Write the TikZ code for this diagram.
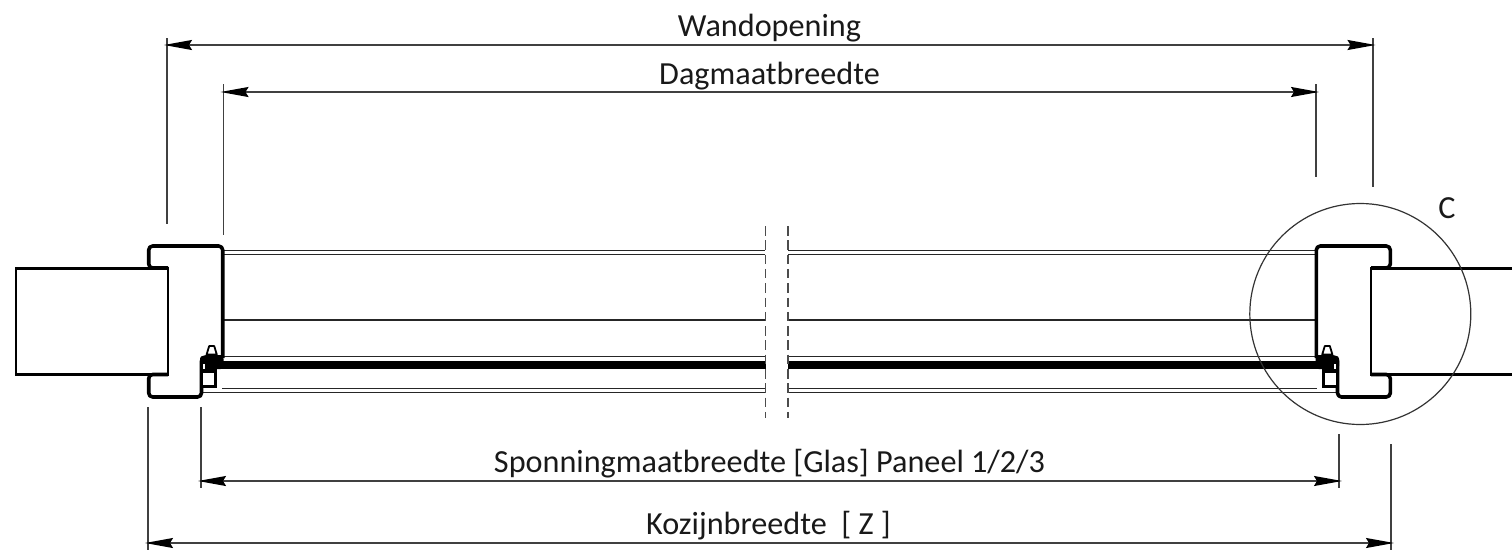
\documentclass[tikz,border=0pt]{standalone}
\usepackage{fontspec}
\setmainfont{Carlito}
\usetikzlibrary{arrows.meta}
\tikzset{
  framel/.style={line width=3.6pt,rounded corners=4pt,line join=round},
  walll/.style={line width=2.5pt,line join=miter},
  glassl/.style={line width=1.2pt,draw=black!85},
  dim/.style={line width=1.4pt,draw=black!75,{Stealth[length=28pt,width=10pt,inset=3pt,color=black]}-{Stealth[length=28pt,width=10pt,inset=3pt,color=black]}},
  extl/.style={line width=1.3pt,draw=black!75},
  brk/.style={line width=1.6pt,draw=black!70,dash pattern=on 9.5pt off 4.8pt},
  lbl/.style={font=\fontsize{32.2}{36}\selectfont,inner sep=0pt,text=black!90},
}
\newcommand{\myprofile}{%
  \draw[framel] (168,268) -- (148.7,268) -- (148.7,246) -- (222.7,246) -- (222.7,358);
  \draw[framel] (168,374.5) -- (148.7,374.5) -- (148.7,397) -- (201.5,397) -- (201.5,357) -- (222.7,357);
  \fill[rounded corners=3pt] (200,369) -- (200,355.8) -- (223.5,355.8) -- (223.5,369) -- cycle;
  \fill (201,369) rectangle (216.7,387.8);
  \fill[white] (203.4,373.2) rectangle (214,385.4);
  \fill[white] (202.6,364) rectangle (204.6,368.5);
  \draw[line width=1.8pt,line join=round,fill=white] (206.6,354.5) -- (209.2,346) -- (214.2,346) -- (216.8,354.5) -- cycle;
}
\begin{document}
\begin{tikzpicture}[x=1pt,y=-1pt]
\useasboundingbox (0,0) rectangle (1512,554);
\fill[white] (0,0) rectangle (1512,554);

% glazing lines, both halves
\foreach \yy in {250.6,254.2,320,356.8,388.6}{
  \draw[glassl] (222,\yy) -- (765,\yy);
  \draw[glassl] (788,\yy) -- (1317,\yy);
}
\draw[glassl] (202,392.4) -- (765,392.4);
\draw[glassl] (788,392.4) -- (1337,392.4);
\fill (205,360.5) rectangle (765.5,368.8);
\fill (788,360.5) rectangle (1330,368.8);

% left end
\myprofile
\draw[walll] (16,268.3) rectangle (168,374.5);
% right end
\begin{scope}[shift={(1539,0)},x=-1pt]
  \myprofile
  \draw[walll] (27,268.3) -- (168,268.3) -- (168,374.5) -- (27,374.5);
\end{scope}

% break lines
\coordinate (b1t) at (765.3,226); \coordinate (b1b) at (765.3,418);
\coordinate (b2t) at (788.2,226); \coordinate (b2b) at (788.2,418);
\draw[brk] (b1t) -- (b1b);
\draw[brk] (b2t) -- (b2b);

% detail circle
\node[draw=black!80,line width=1.2pt,circle,minimum size=221pt,inner sep=0pt] (detail) at (1360.3,314) {};
\node[lbl] (lc) at (1447,208) {C};

% extension lines
\coordinate (wlt) at (167,38);   \coordinate (wlb) at (167,224);
\coordinate (wrt) at (1373,38);  \coordinate (wrb) at (1373,187);
\coordinate (dlt) at (223.5,84); \coordinate (dlb) at (223.5,235);
\coordinate (drt) at (1316,84);  \coordinate (drb) at (1316,177);
\coordinate (slt) at (201,407);  \coordinate (slb) at (201,488);
\coordinate (srt) at (1339,434); \coordinate (srb) at (1339,488);
\coordinate (klt) at (148,407);  \coordinate (klb) at (148,550);
\coordinate (krt) at (1391,444); \coordinate (krb) at (1391,550);
\foreach \a/\b in {wlt/wlb,wrt/wrb,dlt/dlb,drt/drb,slt/slb,srt/srb,klt/klb,krt/krb}
  \draw[extl] (\a) -- (\b);

% dimension lines
\coordinate (w1) at (164,45);    \coordinate (w2) at (1375.5,45);
\coordinate (d1) at (220.5,92);  \coordinate (d2) at (1319,92);
\coordinate (s1) at (198,481);   \coordinate (s2) at (1342,481);
\coordinate (k1) at (145,543);   \coordinate (k2) at (1394,543);
\draw[dim] (w1) -- (w2);
\draw[dim] (d1) -- (d2);
\draw[dim] (s1) -- (s2);
\draw[dim] (k1) -- (k2);

% labels
\node[lbl] (lw) at (769.5,28.5) {Wandopening};
\node[lbl] (ld) at (769.5,76.5) {Dagmaatbreedte};
\node[lbl] (ls) at (769.5,464) {Sponningmaatbreedte [Glas] Paneel 1/2/3};
\node[lbl] (lk) at (768.5,526) {Kozijnbreedte\ \ [ Z ]};
\end{tikzpicture}
\end{document}
